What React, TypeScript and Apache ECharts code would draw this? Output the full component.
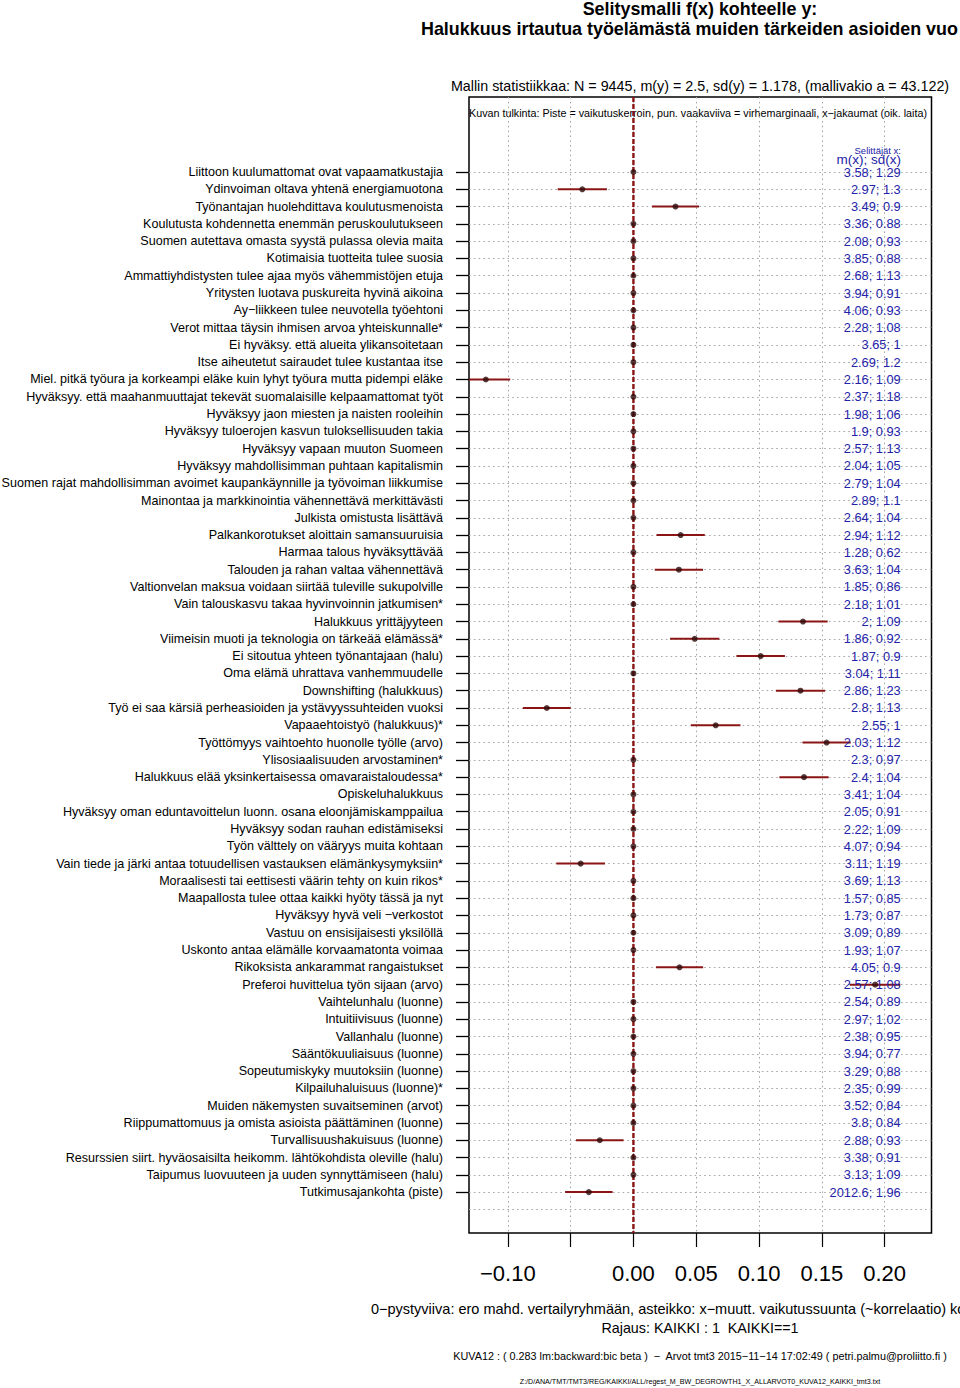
import React, { useEffect, useRef } from "react";
import * as echarts from "echarts";

const labels = [
  "Liittoon kuulumattomat ovat vapaamatkustajia",
  "Ydinvoiman oltava yhtenä energiamuotona",
  "Työnantajan huolehdittava koulutusmenoista",
  "Koulutusta kohdennetta enemmän peruskoulutukseen",
  "Suomen autettava omasta syystä pulassa olevia maita",
  "Kotimaisia tuotteita tulee suosia",
  "Ammattiyhdistysten tulee ajaa myös vähemmistöjen etuja",
  "Yritysten luotava puskureita hyvinä aikoina",
  "Ay−liikkeen tulee neuvotella työehtoni",
  "Verot mittaa täysin ihmisen arvoa yhteiskunnalle*",
  "Ei hyväksy. että alueita ylikansoitetaan",
  "Itse aiheutetut sairaudet tulee kustantaa itse",
  "Miel. pitkä työura ja korkeampi eläke kuin lyhyt työura mutta pidempi eläke",
  "Hyväksyy. että maahanmuuttajat tekevät suomalaisille kelpaamattomat työt",
  "Hyväksyy jaon miesten ja naisten rooleihin",
  "Hyväksyy tuloerojen kasvun tuloksellisuuden takia",
  "Hyväksyy vapaan muuton Suomeen",
  "Hyväksyy mahdollisimman puhtaan kapitalismin",
  "Suomen rajat mahdollisimman avoimet kaupankäynnille ja työvoiman liikkumise",
  "Mainontaa ja markkinointia vähennettävä merkittävästi",
  "Julkista omistusta lisättävä",
  "Palkankorotukset aloittain samansuuruisia",
  "Harmaa talous hyväksyttävää",
  "Talouden ja rahan valtaa vähennettävä",
  "Valtionvelan maksua voidaan siirtää tuleville sukupolville",
  "Vain talouskasvu takaa hyvinvoinnin jatkumisen*",
  "Halukkuus yrittäjyyteen",
  "Viimeisin muoti ja teknologia on tärkeää elämässä*",
  "Ei sitoutua yhteen työnantajaan (halu)",
  "Oma elämä uhrattava vanhemmuudelle",
  "Downshifting (halukkuus)",
  "Työ ei saa kärsiä perheasioiden ja ystävyyssuhteiden vuoksi",
  "Vapaaehtoistyö (halukkuus)*",
  "Työttömyys vaihtoehto huonolle työlle (arvo)",
  "Ylisosiaalisuuden arvostaminen*",
  "Halukkuus elää yksinkertaisessa omavaraistaloudessa*",
  "Opiskeluhalukkuus",
  "Hyväksyy oman eduntavoittelun luonn. osana eloonjämiskamppailua",
  "Hyväksyy sodan rauhan edistämiseksi",
  "Työn välttely on vääryys muita kohtaan",
  "Vain tiede ja järki antaa totuudellisen vastauksen elämänkysymyksiin*",
  "Moraalisesti tai eettisesti väärin tehty on kuin rikos*",
  "Maapallosta tulee ottaa kaikki hyöty tässä ja nyt",
  "Hyväksyy hyvä veli −verkostot",
  "Vastuu on ensisijaisesti yksilöllä",
  "Uskonto antaa elämälle korvaamatonta voimaa",
  "Rikoksista ankarammat rangaistukset",
  "Preferoi huvittelua työn sijaan (arvo)",
  "Vaihtelunhalu (luonne)",
  "Intuitiivisuus (luonne)",
  "Vallanhalu (luonne)",
  "Sääntökuuliaisuus (luonne)",
  "Sopeutumiskyky muutoksiin (luonne)",
  "Kilpailuhaluisuus (luonne)*",
  "Muiden näkemysten suvaitseminen (arvot)",
  "Riippumattomuus ja omista asioista päättäminen (luonne)",
  "Turvallisuushakuisuus (luonne)",
  "Resurssien siirt. hyväosaisilta heikomm. lähtökohdista oleville (halu)",
  "Taipumus luovuuteen ja uuden synnyttämiseen (halu)",
  "Tutkimusajankohta (piste)",
];

const meanX = [
  3.58, 2.97, 3.49, 3.36, 2.08, 3.85, 2.68, 3.94, 4.06, 2.28,
  3.65, 2.69, 2.16, 2.37, 1.98, 1.9, 2.57, 2.04, 2.79, 2.89,
  2.64, 2.94, 1.28, 3.63, 1.85, 2.18, 2, 1.86, 1.87, 3.04,
  2.86, 2.8, 2.55, 2.03, 2.3, 2.4, 3.41, 2.05, 2.22, 4.07,
  3.11, 3.69, 1.57, 1.73, 3.09, 1.93, 4.05, 2.57, 2.54, 2.97,
  2.38, 3.94, 3.29, 2.35, 3.52, 3.8, 2.88, 3.38, 3.13, 2012.6,
];

const sdX = [
  1.29, 1.3, 0.9, 0.88, 0.93, 0.88, 1.13, 0.91, 0.93, 1.08,
  1, 1.2, 1.09, 1.18, 1.06, 0.93, 1.13, 1.05, 1.04, 1.1,
  1.04, 1.12, 0.62, 1.04, 0.86, 1.01, 1.09, 0.92, 0.9, 1.11,
  1.23, 1.13, 1, 1.12, 0.97, 1.04, 1.04, 0.91, 1.09, 0.94,
  1.19, 1.13, 0.85, 0.87, 0.89, 1.07, 0.9, 1.08, 0.89, 1.02,
  0.95, 0.77, 0.88, 0.99, 0.84, 0.84, 0.93, 0.91, 1.09, 1.96,
];

const coef = [
  0, -0.0407, 0.0335, 0, 0, 0, 0, 0, 0, 0,
  0, 0, -0.1175, 0, 0, 0, 0, 0, 0, 0,
  0, 0.0376, 0, 0.0362, 0, 0, 0.1350, 0.0488, 0.1013, 0,
  0.1330, -0.0690, 0.0655, 0.1538, 0, 0.1358, 0, 0, 0, 0,
  -0.0420, 0, 0, 0, 0, 0, 0.0367, 0.1924, 0, 0,
  0, 0, 0, 0, 0, 0, -0.0268, 0, 0, -0.0355,
];

const err = [
  0, 0.0196, 0.0187, 0, 0, 0, 0, 0, 0, 0,
  0, 0, 0.0194, 0, 0, 0, 0, 0, 0, 0,
  0, 0.0192, 0, 0.0192, 0, 0, 0.0196, 0.0196, 0.0193, 0,
  0.0196, 0.0190, 0.0197, 0.0192, 0, 0.0196, 0, 0, 0, 0,
  0.0194, 0, 0, 0, 0, 0, 0.0188, 0.0201, 0, 0,
  0, 0, 0, 0, 0, 0, 0.0189, 0, 0, 0.0189,
];

const xTicks = [-0.1, -0.05, 0, 0.05, 0.1, 0.15, 0.2];
const xTickLabels = [-0.1, 0, 0.05, 0.1, 0.15, 0.2];

const FONT = "'Liberation Sans', Arial, Helvetica, sans-serif";
const BLUE = "#2323a8";
const DARKRED = "#8b1414";
const GRIDLINE = { color: "#a6a6a6", width: 1, type: [1.6, 3.2] };

function buildOption() {
  const X_MIN = -0.1309;
  const X_MAX = 0.2373;
  const Y_MIN = -3.338;
  const Y_MAX = 62.365;
  const rows = labels.map((_, i) => i + 1);
  const gridRows = [...rows, rows.length + 1];
  const valueX = 0.2128;

  const barData = rows
    .filter((r) => err[r - 1] > 0)
    .map((r) => [coef[r - 1] - err[r - 1], coef[r - 1] + err[r - 1], r]);
  const pointData = rows.map((r) => [coef[r - 1], r]);
  const textData = rows.map((r) => [valueX, r, `${meanX[r - 1]}; ${sdX[r - 1]}`]);

  const fmtX = (v: number) => (v < 0 ? "−" + Math.abs(v).toFixed(2) : v.toFixed(2));

  const txt = (
    text: string,
    x: number,
    y: number,
    size: number,
    align: string,
    opts: any = {}
  ) => ({
    type: "text",
    x,
    y,
    silent: true,
    style: {
      text,
      fill: opts.fill || "#000",
      font: `${opts.bold ? "bold " : ""}${size}px ${FONT}`,
      fontSize: size,
      fontFamily: FONT,
      fontWeight: opts.bold ? "bold" : "normal",
      align,
      textAlign: align,
      verticalAlign: "middle",
      textVerticalAlign: "middle",
    },
  });

  const lineItem = (p1: number[], p2: number[], style: any) => ({
    type: "line",
    shape: { x1: p1[0], y1: p1[1], x2: p2[0], y2: p2[1] },
    style: { ...style },
  });

  const yBase = {
    type: "value",
    position: "left",
    inverse: true,
    min: Y_MIN,
    max: Y_MAX,
  };

  return {
    animation: false,
    backgroundColor: "#ffffff",
    textStyle: { fontFamily: FONT },
    grid: {
      left: 469,
      top: 97,
      width: 462.5,
      height: 1136,
      show: true,
      borderColor: "#000",
      borderWidth: 1.5,
      backgroundColor: "transparent",
      containLabel: false,
      outerBoundsMode: "none",
    },
    xAxis: {
      type: "value",
      position: "bottom",
      min: X_MIN,
      max: X_MAX,
      axisLine: { show: false, onZero: false },
      splitLine: { show: true, lineStyle: GRIDLINE },
      axisTick: {
        show: true,
        customValues: xTicks,
        length: 14,
        lineStyle: { color: "#000", width: 1.2 },
      },
      axisLabel: {
        customValues: xTickLabels,
        formatter: fmtX,
        fontSize: 22,
        margin: 29,
        color: "#000",
        fontFamily: FONT,
      },
    },
    yAxis: [
      {
        ...yBase,
        axisLine: { show: false, onZero: false },
        splitLine: { show: false },
        axisTick: {
          show: true,
          customValues: rows,
          length: 13,
          lineStyle: { color: "#000", width: 1.3 },
        },
        axisLabel: {
          customValues: rows,
          formatter: (v: number) => labels[Math.round(v) - 1] ?? "",
          fontSize: 12.55,
          margin: 26,
          color: "#000",
          fontFamily: FONT,
        },
      },
      {
        ...yBase,
        axisLine: { show: false, onZero: false },
        axisLabel: { show: false },
        axisTick: { show: false, customValues: gridRows },
        splitLine: { show: true, lineStyle: GRIDLINE },
      },
    ],
    series: [
      {
        name: "zero",
        type: "custom",
        z: 8,
        silent: true,
        encode: { x: 0, y: 1 },
        data: [[0, 1]],
        renderItem: (_p: any, api: any) =>
          lineItem(api.coord([api.value(0), Y_MIN]), api.coord([api.value(0), Y_MAX]), {
            stroke: DARKRED,
            lineWidth: 2.4,
            lineDash: [5, 2],
          }),
      },
      {
        name: "errors",
        type: "custom",
        z: 9,
        clip: true,
        silent: true,
        encode: { x: [0, 1], y: 2 },
        data: barData,
        renderItem: (_params: any, api: any) =>
          lineItem(
            api.coord([api.value(0), api.value(2)]),
            api.coord([api.value(1), api.value(2)]),
            { stroke: DARKRED, lineWidth: 2 }
          ),
      },
      {
        name: "coef",
        type: "scatter",
        z: 10,
        silent: true,
        symbol: "circle",
        symbolSize: 6,
        itemStyle: { color: "#2e0b0b" },
        data: pointData,
      },
      {
        name: "xstats",
        type: "custom",
        z: 11,
        silent: true,
        encode: { x: 0, y: 1 },
        data: textData,
        renderItem: (params: any, api: any) => {
          const p = api.coord([api.value(0), api.value(1)]);
          const t = textData[params.dataIndex][2] as string;
          return {
            type: "text",
            x: p[0],
            y: p[1],
            style: {
              text: t,
              fill: BLUE,
              font: `12.8px ${FONT}`,
              fontSize: 12.8,
              fontFamily: FONT,
              align: "right",
              textAlign: "right",
              verticalAlign: "middle",
              textVerticalAlign: "middle",
            },
          };
        },
      },
    ],
    graphic: [
      txt("Selitysmalli f(x) kohteelle y:", 700, 9, 17.9, "center", { bold: true }),
      txt("Halukkuus irtautua työelämästä muiden tärkeiden asioiden vuo", 421, 29, 17.9, "left", { bold: true }),
      txt("Mallin statistiikkaa: N = 9445, m(y) = 2.5, sd(y) = 1.178, (mallivakio a = 43.122)", 700, 86, 14.3, "center"),
      txt("Kuvan tulkinta: Piste = vaikutuskerroin, pun. vaakaviiva = virhemarginaali, x−jakaumat (oik. laita)", 698, 113, 10.75, "center"),
      txt("Selittäjät x:", 901, 150, 9.5, "right", { fill: BLUE }),
      txt("m(x); sd(x)", 901, 159.5, 13.5, "right", { fill: BLUE }),
      txt("0−pystyviiva: ero mahd. vertailyryhmään, asteikko: x−muutt. vaikutussuunta (~korrelaatio) ko", 371, 1309, 14.5, "left"),
      txt("Rajaus: KAIKKI : 1  KAIKKI==1", 700, 1328, 14.3, "center"),
      txt("KUVA12 : ( 0.283 lm:backward:bic beta )  −  Arvot tmt3 2015−11−14 17:02:49 ( petri.palmu@proliitto.fi )", 700, 1356, 10.82, "center"),
      txt("Z:/D/ANA/TMT/TMT3/REG/KAIKKI/ALL/regest_M_BW_DEGROWTH1_X_ALLARVOT0_KUVA12_KAIKKI_tmt3.txt", 700, 1382, 7.14, "center"),
    ],
  };
}

export default function App() {
  const ref = useRef<HTMLDivElement>(null);
  useEffect(() => {
    if (!ref.current) return;
    const chart = echarts.init(ref.current, null, { renderer: "svg" });
    chart.setOption(buildOption() as any);
    return () => chart.dispose();
  }, []);
  return (
    <div
      ref={ref}
      style={{ position: "absolute", left: 0, top: 0, width: 960, height: 1388, background: "#fff" }}
    />
  );
}
